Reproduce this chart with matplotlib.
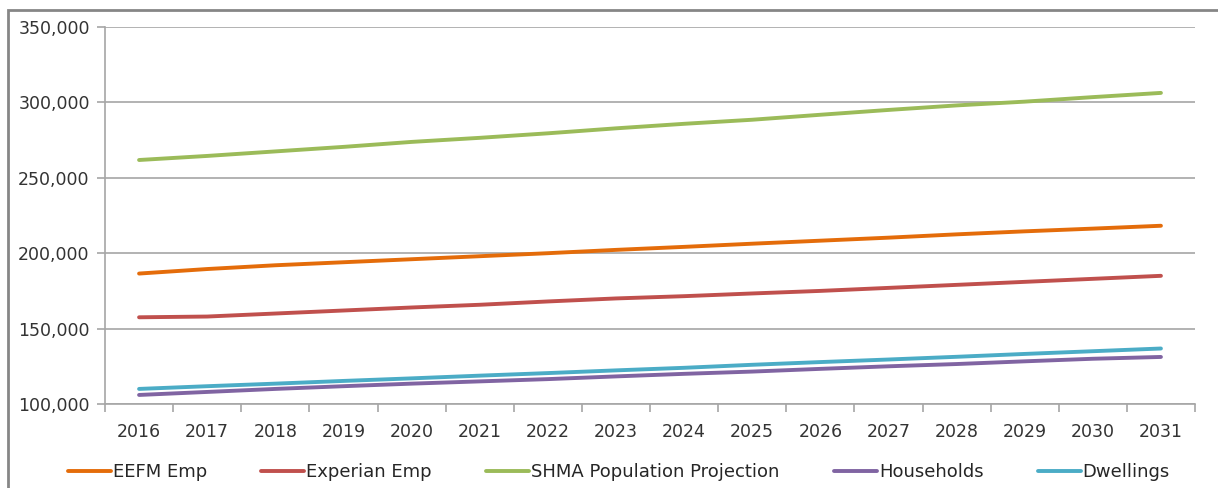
import numpy as np
import matplotlib.pyplot as plt
from matplotlib.patches import Rectangle
from matplotlib.ticker import FuncFormatter

years = [str(y) for y in range(2016, 2032)]

eefm_emp = [186500, 189500, 192000, 194000, 196000, 198000, 200000, 202200,
            204200, 206300, 208300, 210300, 212500, 214500, 216300, 218200]
experian_emp = [157500, 158000, 160000, 162000, 164000, 165800, 168000, 170000,
                171500, 173300, 175000, 177000, 179000, 181000, 183000, 185000]
shma_pop = [261800, 264500, 267500, 270500, 273800, 276500, 279500, 282800,
            285800, 288500, 291800, 295000, 298000, 300500, 303500, 306300]
households = [106000, 108000, 110000, 111800, 113500, 115000, 116500, 118300,
              120000, 121500, 123300, 125000, 126500, 128300, 130000, 131200]
dwellings = [110000, 111800, 113500, 115300, 117000, 118800, 120500, 122300,
             124000, 126000, 127800, 129500, 131300, 133200, 135000, 136800]

series = [
    ("EEFM Emp", eefm_emp, "#E46C0A"),
    ("Experian Emp", experian_emp, "#C0504D"),
    ("SHMA Population Projection", shma_pop, "#9BBB59"),
    ("Households", households, "#8064A2"),
    ("Dwellings", dwellings, "#4BACC6"),
]

plt.rcParams['font.family'] = 'DejaVu Sans'
plt.rcParams['font.size'] = 12

fig = plt.figure(figsize=(12.18, 4.88), dpi=100)
ax = fig.add_axes([105/1218, 1-404/488, 1090/1218, 377/488])

x = np.arange(len(years))
for name, vals, col in series:
    ax.plot(x, vals, color=col, lw=2.8, label=name, solid_capstyle='round')

ax.set_xlim(-0.5, len(years) - 0.5)
ax.set_ylim(100000, 350000)
ax.set_yticks(np.arange(100000, 350001, 50000))
ax.yaxis.set_major_formatter(FuncFormatter(lambda v, p: f"{int(v):,}"))
ax.grid(axis='y', color='#A6A6A6', lw=1.2)
ax.set_axisbelow(True)

ax.set_xticks(x)
ax.set_xticklabels(years)
ax.set_xticks(np.arange(-0.5, len(years)), minor=True)
ax.tick_params(axis='x', which='major', length=0, pad=14, labelsize=12.5)
ax.tick_params(axis='x', which='minor', length=6, color='#A6A6A6', width=1.2)
ax.tick_params(axis='y', length=6, color='#A6A6A6', width=1.2, pad=5, labelsize=12.5)
for lab in ax.get_xticklabels() + ax.get_yticklabels():
    lab.set_color('#333333')

for s in ['top', 'right']:
    ax.spines[s].set_visible(False)
for s in ['left', 'bottom']:
    ax.spines[s].set_color('#A6A6A6')
    ax.spines[s].set_linewidth(1.2)

leg = fig.legend(loc='center', bbox_to_anchor=(0.508, 1-472/488), ncol=5, frameon=False,
                 handlelength=2.4, handletextpad=0.1, columnspacing=3.0, fontsize=13)
for t in leg.get_texts():
    t.set_color('#262626')

# outer chart frame
fig.add_artist(Rectangle((8/1218, -0.1), 1.2, 1 - 10/488 + 0.1, transform=fig.transFigure,
                         fill=False, edgecolor='#868686', lw=2))

fig.savefig('out.png', dpi=100)
